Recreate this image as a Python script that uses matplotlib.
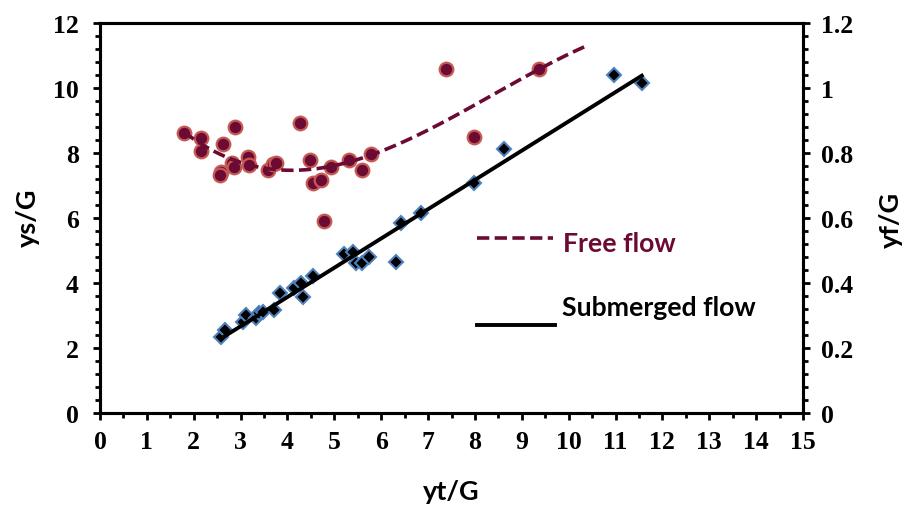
#!/usr/bin/env python3
"""
ys/G and yf/G against yt/G, submerged and free flow with trend lines
"""

import numpy as np
import matplotlib.pyplot as plt
from matplotlib.ticker import MultipleLocator

# submerged flow points (left axis, ys/G)
sub_x = [2.59, 2.66, 3.05, 3.12, 3.33, 3.40, 3.48, 3.72, 3.84, 4.15, 4.29, 4.33,
         4.55, 5.21, 5.40, 5.46, 5.60, 5.74, 6.31, 6.42, 6.84, 7.98, 8.62,
         10.96, 11.56]
sub_ys = [2.35, 2.55, 2.81, 3.02, 2.91, 3.07, 3.12, 3.17, 3.68, 3.84, 4.01, 3.58,
          4.22, 4.89, 4.96, 4.63, 4.60, 4.79, 4.66, 5.84, 6.14, 7.09, 8.11,
          10.40, 10.16]

# free flow points (right axis, yf/G)
free_x = [1.79, 2.16, 2.16, 2.87, 2.62, 3.16, 2.82, 2.85, 2.59, 2.55, 3.19, 3.58,
          3.69, 3.76, 4.26, 4.48, 4.54, 4.72, 4.93, 5.32, 5.58, 5.78, 4.79,
          7.39, 9.36, 7.98]
free_yf = [0.863, 0.845, 0.807, 0.879, 0.827, 0.787, 0.770, 0.758, 0.743, 0.732,
           0.763, 0.748, 0.766, 0.768, 0.891, 0.778, 0.709, 0.717, 0.758, 0.778,
           0.748, 0.797, 0.592, 1.057, 1.057, 0.850]

maroon = '#6B0A33'
serif = 'Liberation Serif'
sans = 'Lato'
dash = (3.4, 1.5)

fig = plt.figure(figsize=(9.09, 5.06), dpi=100)
ax = fig.add_axes([0.110, 0.1818, 0.7734, 0.7708])
ax2 = ax.twinx()

# submerged flow: diamonds + linear trend
ax.plot(sub_x, sub_ys, linestyle='none', marker='D', markersize=6.8,
        markerfacecolor='black', markeredgecolor='#4F81BD', markeredgewidth=1.5,
        zorder=3)
k, b = np.polyfit(sub_x, sub_ys, 1)
xl = np.array([min(sub_x), max(sub_x)])
ax.plot(xl, k * xl + b, color='black', linewidth=2.8, zorder=4)

# free flow: circles + cubic trend, carried forward one unit
ax2.plot(free_x, free_yf, linestyle='none', marker='o', markersize=9.8,
         markerfacecolor=maroon, markeredgecolor='#C55A55', markeredgewidth=1.6,
         zorder=3)
coef = np.polyfit(free_x, free_yf, 3)
xc = np.linspace(min(free_x), max(free_x) + 1.0, 200)
ax2.plot(xc, np.polyval(coef, xc), color=maroon, linewidth=2.6,
         dashes=dash, zorder=4)

ax.set_xlim(0, 15)
ax.set_ylim(0, 12)
ax2.set_ylim(0, 1.2)

ax.xaxis.set_major_locator(MultipleLocator(1))
ax.xaxis.set_minor_locator(MultipleLocator(0.5))
ax.yaxis.set_major_locator(MultipleLocator(2))
ax.yaxis.set_minor_locator(MultipleLocator(0.4))
ax2.yaxis.set_major_locator(MultipleLocator(0.2))
ax2.yaxis.set_minor_locator(MultipleLocator(0.04))
ax2.yaxis.set_major_formatter(plt.FuncFormatter(lambda v, p: f'{v:g}'))

for a in (ax, ax2):
    for s in a.spines.values():
        s.set_linewidth(2.2)
    a.tick_params(which='major', direction='out', length=5.2, width=2.0)
    a.tick_params(which='minor', direction='out', length=3.6, width=2.0)
    for lab in a.get_xticklabels() + a.get_yticklabels():
        lab.set_fontfamily(serif)
        lab.set_fontweight('bold')
        lab.set_fontsize(18.5)
ax.tick_params(axis='y', which='major', pad=10)
ax.tick_params(axis='x', which='major', pad=7)
ax2.tick_params(axis='y', which='major', pad=8)

ax.set_xlabel('yt/G', fontfamily=sans, fontweight='bold', fontsize=19.5)
ax.set_ylabel('ys/G', fontfamily=sans, fontweight='bold', fontsize=19.5)
ax2.set_ylabel('yf/G', fontfamily=sans, fontweight='bold', fontsize=19.5,
               rotation=90)
ax.xaxis.set_label_coords(0.5, -0.2)
ax.yaxis.set_label_coords(-0.1024, 0.5026)
ax2.yaxis.set_label_coords(1.125, 0.497)
ax.xaxis.label.set_va('center')
ax.yaxis.label.set_va('center')
ax2.yaxis.label.set_va('center')

# hand-made legend
ax.plot([0.536, 0.644], [0.448, 0.448], transform=ax.transAxes, color=maroon,
        linewidth=2.6, dashes=dash, clip_on=False)
ax.text(0.659, 0.437, 'Free flow', transform=ax.transAxes, color=maroon,
        fontfamily=sans, fontweight='bold', fontsize=19.2, va='center')
ax.plot([0.536, 0.647], [0.226, 0.226], transform=ax.transAxes, color='black',
        linewidth=2.8, clip_on=False)
ax.text(0.657, 0.272, 'Submerged flow', transform=ax.transAxes, color='black',
        fontfamily=sans, fontweight='bold', fontsize=19.2, va='center')

fig.savefig('out.png', dpi=100)
